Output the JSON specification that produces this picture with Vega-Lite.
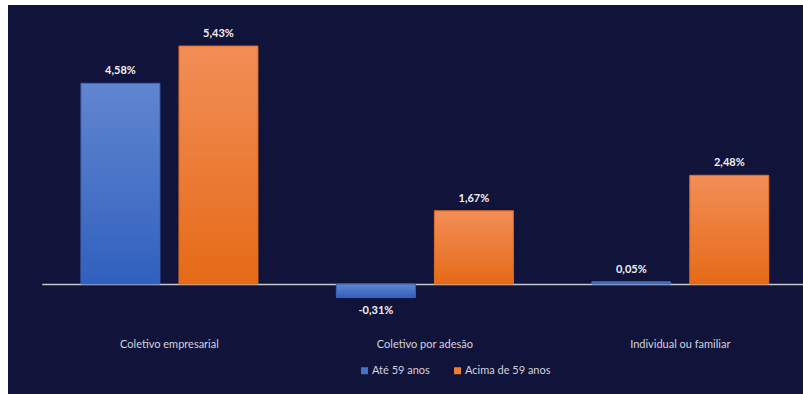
{
  "$schema": "https://vega.github.io/schema/vega-lite/v6.json",
  "width": 795,
  "height": 389,
  "autosize": {"type": "none"},
  "padding": {"left": 8, "top": 5, "right": 0, "bottom": 0},
  "background": "#ffffff",
  "config": {
    "view": {"fill": "#10133a", "stroke": null},
    "font": "Lato"
  },
  "data": {
    "values": [
      {"categoria": "Coletivo empresarial", "serie": "Até 59 anos", "valor": 4.58, "rotulo": "4,58%"},
      {"categoria": "Coletivo empresarial", "serie": "Acima de 59 anos", "valor": 5.43, "rotulo": "5,43%"},
      {"categoria": "Coletivo por adesão", "serie": "Até 59 anos", "valor": -0.31, "rotulo": "-0,31%"},
      {"categoria": "Coletivo por adesão", "serie": "Acima de 59 anos", "valor": 1.67, "rotulo": "1,67%"},
      {"categoria": "Individual ou familiar", "serie": "Até 59 anos", "valor": 0.05, "rotulo": "0,05%"},
      {"categoria": "Individual ou familiar", "serie": "Acima de 59 anos", "valor": 2.48, "rotulo": "2,48%"}
    ]
  },
  "encoding": {
    "x": {
      "field": "categoria", "type": "nominal", "sort": null,
      "scale": {"range": [33.75, 800], "paddingInner": 0, "paddingOuter": 0},
      "axis": {
        "title": null, "orient": "bottom", "offset": -110, "labelAngle": 0,
        "ticks": false, "tickSize": 0, "labelPadding": 54,
        "domainColor": "#c8c8cc", "domainWidth": 1.5,
        "labelColor": "#d4d4dc", "labelFont": "Lato", "labelFontSize": 11, "zindex": 0
      }
    },
    "xOffset": {
      "field": "serie", "type": "nominal",
      "scale": {"domain": ["Até 59 anos", "Acima de 59 anos"], "paddingInner": 0.194, "paddingOuter": 0.4}
    },
    "y": {
      "field": "valor", "type": "quantitative",
      "scale": {"domain": [-2.51, 6.366], "nice": false, "zero": false},
      "axis": null
    }
  },
  "layer": [
    {
      "mark": {"type": "bar", "strokeWidth": 0},
      "encoding": {
        "color": {
          "field": "serie", "type": "nominal",
          "scale": {"domain": ["Até 59 anos", "Acima de 59 anos"], "range": ["#4472c4", "#ed7d31"]},
          "legend": {
            "title": null, "orient": "none", "direction": "horizontal",
            "legendX": 351, "legendY": 360,
            "symbolType": "square", "symbolSize": 49, "symbolStrokeWidth": 0,
            "labelColor": "#d4d4dc", "labelFont": "Lato", "labelFontSize": 11,
            "labelOffset": 2, "columnPadding": 22
          }
        }
      }
    },
    {
      "transform": [{"filter": "datum.serie === 'Até 59 anos'"}],
      "mark": {
        "type": "bar", "stroke": "#3d62ad", "strokeWidth": 1,
        "fill": {"gradient": "linear", "x1": 0, "y1": 0, "x2": 0, "y2": 1,
          "stops": [{"offset": 0, "color": "#6186d0"}, {"offset": 1, "color": "#3060be"}]}
      }
    },
    {
      "transform": [{"filter": "datum.serie === 'Acima de 59 anos'"}],
      "mark": {
        "type": "bar", "stroke": "#d7691f", "strokeWidth": 1,
        "fill": {"gradient": "linear", "x1": 0, "y1": 0, "x2": 0, "y2": 1,
          "stops": [{"offset": 0, "color": "#f28e58"}, {"offset": 1, "color": "#e66a17"}]}
      }
    },
    {
      "transform": [{"filter": "datum.valor >= 0"}],
      "mark": {"type": "text", "dy": -12, "baseline": "middle", "fontWeight": "bold", "fontSize": 11, "color": "#f0f0f4", "font": "Lato"},
      "encoding": {"text": {"field": "rotulo"}}
    },
    {
      "transform": [{"filter": "datum.valor < 0"}],
      "mark": {"type": "text", "dy": 13, "baseline": "middle", "fontWeight": "bold", "fontSize": 11, "color": "#f0f0f4", "font": "Lato"},
      "encoding": {"text": {"field": "rotulo"}}
    }
  ]
}
